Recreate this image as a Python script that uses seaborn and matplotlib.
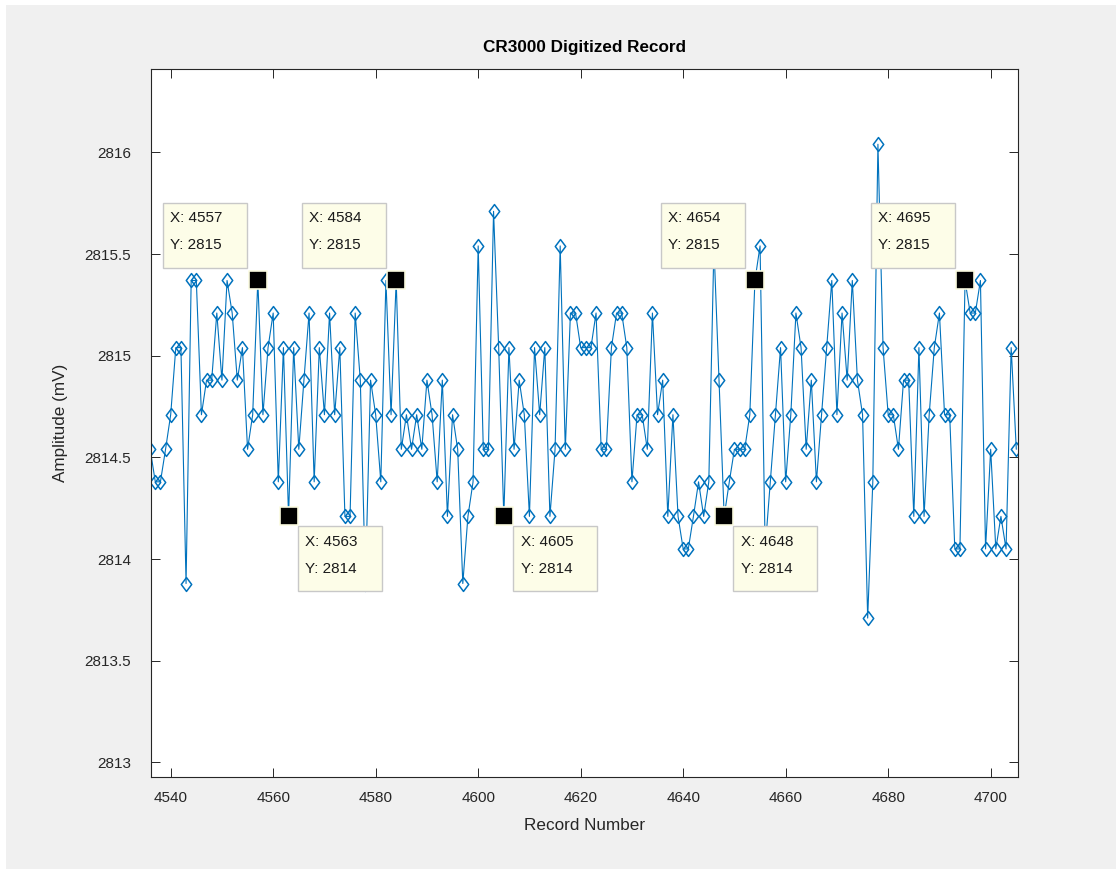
import numpy as np
import seaborn as sns
import matplotlib.pyplot as plt
import matplotlib.transforms as mtransforms
from matplotlib.patches import Rectangle
from matplotlib.path import Path

# record numbers 4536..4705 and digitized amplitude (mV)
records = list(range(4536, 4706))
amplitude = [
    2814.54, 2814.38, 2814.38, 2814.54, 2814.71, 2815.04, 2815.04, 2813.88, 2815.37, 2815.37,
    2814.71, 2814.88, 2814.88, 2815.21, 2814.88, 2815.37, 2815.21, 2814.88, 2815.04, 2814.54,
    2814.71, 2815.37, 2814.71, 2815.04, 2815.21, 2814.38, 2815.04, 2814.21, 2815.04, 2814.54,
    2814.88, 2815.21, 2814.38, 2815.04, 2814.71, 2815.21, 2814.71, 2815.04, 2814.21, 2814.21,
    2815.21, 2814.88, 2813.88, 2814.88, 2814.71, 2814.38, 2815.37, 2814.71, 2815.37, 2814.54,
    2814.71, 2814.54, 2814.71, 2814.54, 2814.88, 2814.71, 2814.38, 2814.88, 2814.21, 2814.71,
    2814.54, 2813.88, 2814.21, 2814.38, 2815.54, 2814.54, 2814.54, 2815.71, 2815.04, 2814.21,
    2815.04, 2814.54, 2814.88, 2814.71, 2814.21, 2815.04, 2814.71, 2815.04, 2814.21, 2814.54,
    2815.54, 2814.54, 2815.21, 2815.21, 2815.04, 2815.04, 2815.04, 2815.21, 2814.54, 2814.54,
    2815.04, 2815.21, 2815.21, 2815.04, 2814.38, 2814.71, 2814.71, 2814.54, 2815.21, 2814.71,
    2814.88, 2814.21, 2814.71, 2814.21, 2814.05, 2814.05, 2814.21, 2814.38, 2814.21, 2814.38,
    2815.54, 2814.88, 2814.21, 2814.38, 2814.54, 2814.54, 2814.54, 2814.71, 2815.37, 2815.54,
    2814.05, 2814.38, 2814.71, 2815.04, 2814.38, 2814.71, 2815.21, 2815.04, 2814.54, 2814.88,
    2814.38, 2814.71, 2815.04, 2815.37, 2814.71, 2815.21, 2814.88, 2815.37, 2814.88, 2814.71,
    2813.71, 2814.38, 2816.04, 2815.04, 2814.71, 2814.71, 2814.54, 2814.88, 2814.88, 2814.21,
    2815.04, 2814.21, 2814.71, 2815.04, 2815.21, 2814.71, 2814.71, 2814.05, 2814.05, 2815.37,
    2815.21, 2815.21, 2815.37, 2814.05, 2814.54, 2814.05, 2814.21, 2814.05, 2815.04, 2814.54,
]

# data tips: tips above the trace, tips below the trace
tips_above = [4557, 4584, 4654, 4695]
tips_below = [4563, 4605, 4648]

x_ticks = [4540, 4560, 4580, 4600, 4620, 4640, 4660, 4680, 4700]
y_ticks = [2813, 2813.5, 2814, 2814.5, 2815, 2815.5, 2816]

LINE_BLUE = "#0072BD"
INK = "#262626"

sns.set_theme(style="white")
plt.rcParams["font.family"] = ["Liberation Sans", "DejaVu Sans"]

W, H = 1116, 869
fig = plt.figure(figsize=(W / 100, H / 100), dpi=100, facecolor="white")
fig.patches.append(Rectangle((6 / W, 0), 1 - 6 / W, 1 - 5 / H, transform=fig.transFigure,
                             facecolor="#f0f0f0", edgecolor="none", zorder=-10))

left, right, top, bottom = 151, 1018.3, 69, 776.7
ax = fig.add_axes([left / W, 1 - bottom / H, (right - left) / W, (bottom - top) / H])
ax.set_facecolor("white")

diamond = Path([(0, 1), (0.75, 0), (0, -1), (-0.75, 0), (0, 1)],
               [Path.MOVETO, Path.LINETO, Path.LINETO, Path.LINETO, Path.CLOSEPOLY])

sns.lineplot(x=records, y=amplitude, ax=ax, color=LINE_BLUE, linewidth=0.8,
             marker=diamond, markersize=10, markerfacecolor="none",
             markeredgecolor=LINE_BLUE, markeredgewidth=1.1, errorbar=None, sort=False)

amp_of = dict(zip(records, amplitude))
tip_x = tips_above + tips_below
tip_y = [amp_of[r] for r in tip_x]
sns.scatterplot(x=tip_x, y=tip_y, ax=ax, marker="s", s=150, color="black",
                edgecolor="#fbfbe0", linewidth=1.2, zorder=5, legend=False)


def data_tip(rec, above):
    val = amp_of[rec]
    trans = fig.dpi_scale_trans + mtransforms.ScaledTranslation(rec, val, ax.transData)
    if above:
        bx, by, tx, ty1, ty2 = -94.4, 12.3, -87.4, 62.3, 35.0
    else:
        bx, by, tx, ty1, ty2 = 9.3, -75.0, 16.7, -26.0, -52.6
    ax.add_patch(Rectangle((bx / 100, by / 100), 0.84, 0.655, transform=trans,
                           facecolor="#fdfde8", edgecolor="#c8c8c8", linewidth=1.0,
                           zorder=8, clip_on=False))
    ax.text(tx / 100, ty1 / 100, f"X: {rec}", transform=trans, fontsize=11,
            color="#1a1a1a", va="center", ha="left", zorder=9)
    ax.text(tx / 100, ty2 / 100, f"Y: {val:.4g}", transform=trans, fontsize=11,
            color="#1a1a1a", va="center", ha="left", zorder=9)


for rec in tips_above:
    data_tip(rec, True)
for rec in tips_below:
    data_tip(rec, False)

ax.set_xlim(4536.16, 4705.39)
ax.set_ylim(2812.93, 2816.41)
ax.set_xticks(x_ticks)
ax.set_yticks(y_ticks)
ax.set_yticklabels([f"{t:g}" for t in y_ticks])

ax.tick_params(axis="both", which="both", direction="in", length=6.8, width=0.7,
               colors=INK, labelsize=11, top=True, right=True, bottom=True, left=True)
ax.tick_params(axis="y", pad=14.4)
ax.tick_params(axis="x", pad=10)
for side in ["top", "bottom", "left", "right"]:
    ax.spines[side].set_visible(True)
    ax.spines[side].set_color(INK)
    ax.spines[side].set_linewidth(0.8)

ax.set_xlabel("Record Number", fontsize=12.3, color=INK, labelpad=10)
ax.set_ylabel("Amplitude (mV)", fontsize=12.3, color=INK, labelpad=12)
ax.set_title("CR3000 Digitized Record", fontsize=12.3, fontweight="bold", color="black", pad=12)

fig.savefig("out.png", dpi=100, facecolor=fig.get_facecolor())
plt.close(fig)
